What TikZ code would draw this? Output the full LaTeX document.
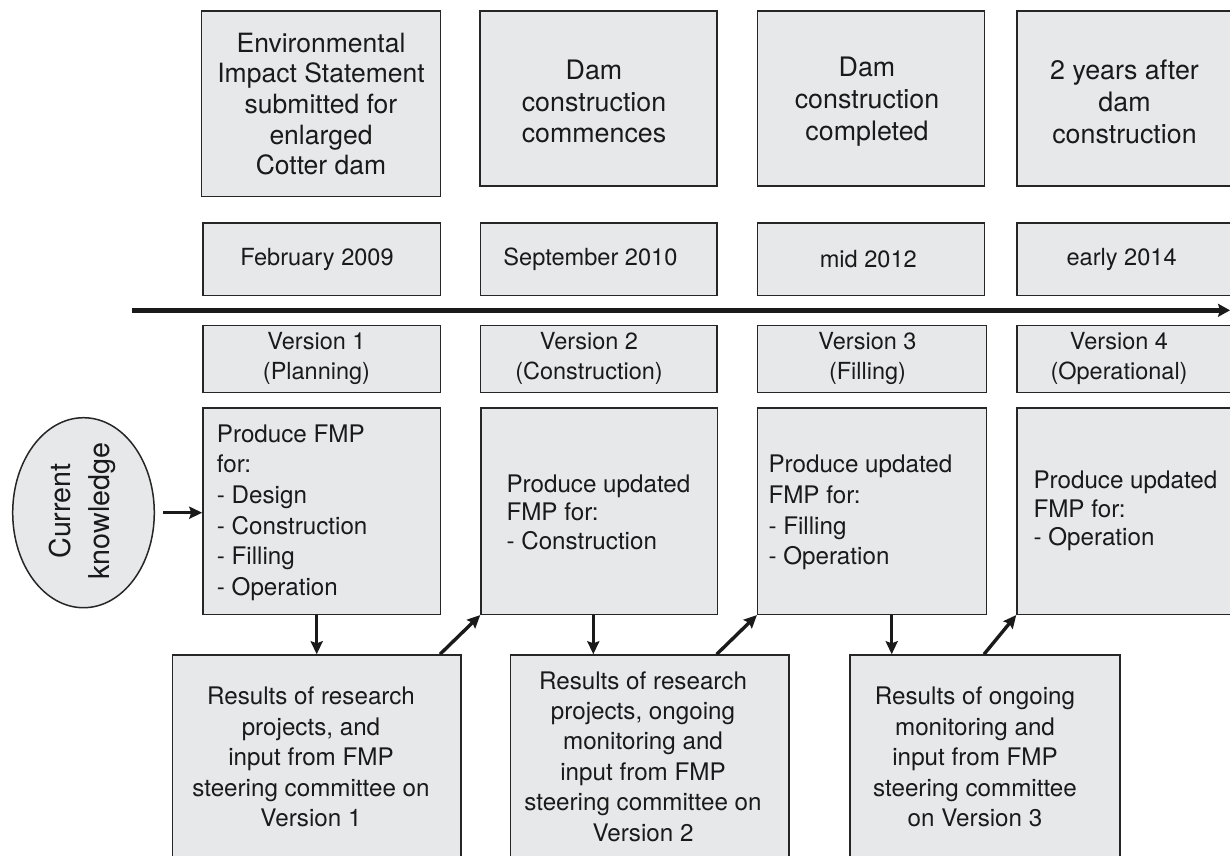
\documentclass[tikz,border=0pt]{standalone}
\usepackage{fontspec}
\setmainfont{TeX Gyre Heros}
\usetikzlibrary{arrows.meta,shapes.geometric,fit}
\definecolor{boxfill}{HTML}{E7E8EA}
\definecolor{boxline}{HTML}{262626}
\definecolor{ink}{HTML}{1A1A1A}
\newcommand{\fTopA}{\fontsize{26.5}{30.6}\selectfont}
\newcommand{\fTopB}{\fontsize{26.8}{31.7}\selectfont}
\newcommand{\fDate}{\fontsize{23.6}{28}\selectfont}
\newcommand{\fVer}{\fontsize{23.5}{30}\selectfont}
\newcommand{\fMainA}{\fontsize{24.2}{30.6}\selectfont}
\newcommand{\fMainB}{\fontsize{24.2}{28.5}\selectfont}
\newcommand{\fBot}{\fontsize{24.2}{30.4}\selectfont}
\newcommand{\fEll}{\fontsize{28.7}{38.3}\selectfont}
\tikzset{
  box/.style={draw=boxline, fill=boxfill, line width=1.5pt, inner sep=0pt},
  txt/.style={text=ink, inner sep=0pt, align=center},
  ltxt/.style={text=ink, inner sep=0pt, align=left, anchor=west},
  conn/.style={draw=ink, line width=3.4pt, -{Stealth[length=13pt,width=12pt,inset=2pt]}},
  timeline/.style={draw=ink, line width=4.5pt, -{Stealth[length=12pt,width=13pt,inset=2pt]}},
}
\begin{document}
\begin{tikzpicture}[x=1pt,y=-1pt]
\useasboundingbox (0,0) rectangle (1230,855);
\fill[white] (0,0) rectangle (1230,855);
\clip (0,0) rectangle (1230,855);

% top event boxes
\node[box, fit={(201.3,11) (440.3,196.7)}] (T1) {};
\node[box, fit={(480,11) (717,186)}] (T2) {};
\node[box, fit={(757.3,11) (984.7,186)}] (T3) {};
\node[box, fit={(1017,11) (1260,186)}] (T4) {};
\node[txt, font=\fTopA] (T1t) at (321,104) {Environmental\\Impact Statement\\submitted for\\enlarged\\Cotter dam};
\node[txt, font=\fTopB] (T2t) at (594,101.7) {Dam\\construction\\commences};
\node[txt, font=\fTopB] (T3t) at (867,101.7) {Dam\\construction\\completed};
\node[txt, font=\fTopB] (T4t) at (1124.5,101.7) {2 years after\\dam\\construction};

% date boxes
\node[box, fit={(203,223) (440.3,295.3)}] (D1) {};
\node[box, fit={(480.5,223) (717,295.3)}] (D2) {};
\node[box, fit={(757.3,223) (984.7,295.3)}] (D3) {};
\node[box, fit={(1017,223) (1260,295.3)}] (D4) {};
\node[txt, font=\fDate] (D1t) at (317,259) {February 2009};
\node[txt, font=\fDate] (D2t) at (590.4,259) {September 2010};
\node[txt, font=\fDate] (D3t) at (868.3,259) {mid 2012};
\node[txt, font=\fDate] (D4t) at (1121.6,259) {early 2014};

% timeline
\coordinate (tlA) at (131.7,310.3);
\coordinate (tlB) at (1230,310.3);
\draw[timeline] (tlA) -- (tlB);

% version boxes
\node[box, fit={(203,325.7) (440.3,392.7)}] (V1) {};
\node[box, fit={(480.5,325.7) (717,392.7)}] (V2) {};
\node[box, fit={(757.3,325.7) (986.5,392.7)}] (V3) {};
\node[box, fit={(1017,325.7) (1260,392.7)}] (V4) {};
\node[txt, font=\fVer] (V1t) at (316.5,358.5) {Version 1\\(Planning)};
\node[txt, font=\fVer] (V2t) at (589,358.5) {Version 2\\(Construction)};
\node[txt, font=\fVer] (V3t) at (867.5,358.5) {Version 3\\(Filling)};
\node[txt, font=\fVer] (V4t) at (1119,358.5) {Version 4\\(Operational)};

% main FMP boxes
\node[box, fit={(203,408) (440.3,614.3)}] (M1) {};
\node[box, fit={(481,408) (717.3,614.3)}] (M2) {};
\node[box, fit={(757.7,408) (986.7,614.3)}] (M3) {};
\node[box, fit={(1017,408) (1260,614.3)}] (M4) {};
\node[ltxt, font=\fMainA] (M1t) at (216.7,512.7) {Produce FMP\\for:\\- Design\\- Construction\\- Filling\\- Operation};
\node[ltxt, font=\fMainB] (M2t) at (506.3,512) {Produce updated\\FMP for:\\- Construction};
\node[ltxt, font=\fMainA] (M3t) at (768.3,512.7) {Produce updated\\FMP for:\\- Filling\\- Operation};
\node[ltxt, font=\fMainB] (M4t) at (1033.3,511.3) {Produce updated\\FMP for:\\- Operation};

% current knowledge
\node[box, ellipse, minimum width=141.6pt, minimum height=190pt] (E) at (83.5,512.7) {};
\node[txt, font=\fEll, rotate=90] (Et) at (82.5,511) {Current\\knowledge};

% bottom result boxes
\node[box, fit={(172.7,655) (461,880)}] (B1) {};
\node[box, fit={(510.7,655) (789,880)}] (B2) {};
\node[box, fit={(850,655) (1120,880)}] (B3) {};
\node[txt, font=\fBot] (B1t) at (311,757) {Results of research\\projects, and\\input from FMP\\steering committee on\\Version 1};
\node[txt, font=\fBot] (B2t) at (643,756.5) {Results of research\\projects, ongoing\\monitoring and\\input from FMP\\steering committee on\\Version 2};
\node[txt, font=\fBot] (B3t) at (975,757) {Results of ongoing\\monitoring and\\input from FMP\\steering committee\\on Version 3};

% connectors
\draw[conn, shorten <=8pt] (E.east) -- (E.east -| M1.west);
\draw[conn] (316.7,0 |- M1.south) -- (316.7,0 |- B1.north);
\draw[conn] (593.3,0 |- M2.south) -- (593.3,0 |- B2.north);
\draw[conn] (891.7,0 |- M3.south) -- (891.7,0 |- B3.north);
\draw[conn] (440,0 |- B1.north) -- (M2.south west);
\draw[conn] (716.7,0 |- B2.north) -- (M3.south west);
\draw[conn] (984,0 |- B3.north) -- (M4.south west);
\end{tikzpicture}
\end{document}
